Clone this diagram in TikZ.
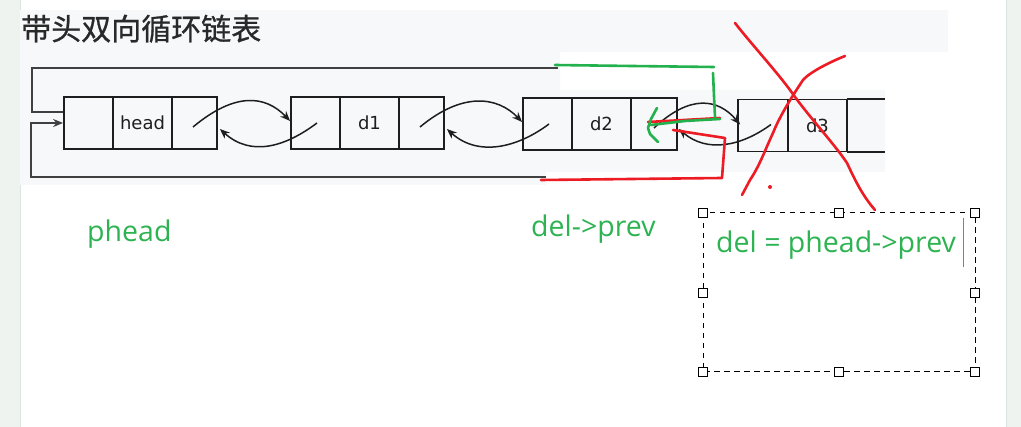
\documentclass[tikz,border=0pt]{standalone}
\usepackage{fontspec}
\setmainfont{Open Sans}
\newfontfamily\cjk[FakeBold=0.8]{Noto Sans CJK SC}
\newfontfamily\dejavu{DejaVu Sans}
\usetikzlibrary{arrows.meta,calc}
\definecolor{pgreen}{HTML}{22B14C}
\definecolor{tgreen}{HTML}{2DB352}
\definecolor{pred}{HTML}{ED1C24}
\definecolor{lineblk}{HTML}{1E1E1E}
\definecolor{bandgray}{HTML}{F7F8FA}
\definecolor{sidegray}{HTML}{EEF3F0}
\definecolor{sideline}{HTML}{DCE4DF}
\begin{document}
\begin{tikzpicture}[x=1pt,y=-1pt,
  cell/.style={draw=lineblk,line width=1.8pt,minimum height=52pt,inner sep=0pt,
    font=\dejavu\fontsize{18}{20}\selectfont,text=lineblk},
  opencell/.style={minimum height=52pt,inner sep=0pt},
  arr/.style={draw=lineblk,line width=1.5pt,-{Stealth[length=10pt,width=8pt]}},
  loopline/.style={draw=lineblk!85,line width=1.8pt},
  gpen/.style={draw=pgreen,line width=2.6pt,line cap=round,line join=round},
  rpen/.style={draw=pred,line width=2.6pt,line cap=round,line join=round},
  lbl/.style={anchor=base west,inner sep=0pt,text=tgreen,font=\fontsize{28.5}{32}\selectfont},
  handle/.style={draw=black,fill=white,line width=1pt,minimum size=8.5pt,inner sep=0pt}]
\useasboundingbox (0,0) rectangle (1021,427);
\fill[white] (0,0) rectangle (1021,427);
% side stripes
\fill[sidegray] (0,0) rectangle (20,427);
\draw[sideline,line width=1pt] (20,0) -- (20,427);
\fill[sidegray] (1006,0) rectangle (1021,427);
\draw[sideline,line width=1pt] (1006,0) -- (1006,427);
% bands
\fill[bandgray] (20,10) rectangle (948,52);
\fill[bandgray] (20,52) -- (560,52) -- (560,90) -- (885,90) -- (885,172) -- (546,172) -- (546,185) -- (20,185) -- cycle;
% title
\node[anchor=base west,inner sep=0pt,text=lineblk!95,font=\cjk\fontsize{30}{32}\selectfont] (title) at (21,40) {带头双向循环链表};
% head node
\node[cell,minimum width=49pt] (h1) at (88.5,123) {};
\node[cell,minimum width=59pt] (h2) at (142.5,123) {head};
\node[cell,minimum width=45pt] (h3) at (194.5,123) {};
% d1
\node[cell,minimum width=49pt] (a1) at (315.5,123) {};
\node[cell,minimum width=59pt] (a2) at (369.5,123) {d1};
\node[cell,minimum width=45pt] (a3) at (421.5,123) {};
% d2
\node[cell,minimum width=49pt] (b1) at (547.5,124) {};
\node[cell,minimum width=59pt] (b2) at (601.5,124) {d2};
\node[cell,minimum width=46pt] (b3) at (654,124) {};
% d3
\node[cell,minimum width=50pt] (c1) at (763,125.5) {};
\node[cell,minimum width=59pt] (c2) at (817.5,125.5) {d3};
\node[opencell,minimum width=38pt] (c3) at (866,125.5) {};
\draw[loopline,draw=lineblk] (c3.north west) -- (c3.north east);
\draw[loopline,draw=lineblk] (c3.south west) -- (c3.south east);
% links head <-> d1
\draw[arr] ($(h3.center)+(-1.5,4)$) .. controls +(42,-35) and +(-25,-26) .. ($(a1.west)+(0,-2)$);
\draw[arr] ($(a1.center)+(1.5,0)$) .. controls +(-32,24) and +(31,28) .. ($(h3.east)+(2,6)$);
% d1 <-> d2
\draw[arr] ($(a3.center)+(-1.5,4)$) .. controls +(42,-35) and +(-25,-26) .. ($(b1.west)+(0,-2)$);
\draw[arr] ($(b1.center)+(1.5,0)$) .. controls +(-32,24) and +(31,28) .. ($(a3.east)+(2,6)$);
% d2 <-> d3
\draw[arr] ($(b3.center)+(0,4)$) .. controls +(36,-34) and +(-22,-26) .. ($(c1.west)+(3,-1)$);
\draw[arr] ($(c1.center)+(8,-1)$) .. controls +(-30,22) and +(28,24) .. ($(b3.east)+(1,5)$);
% outer loop lines
\coordinate (topend) at (558,68);
\coordinate (botend) at (546,177);
\draw[loopline] ($(h1.west)+(0,-11)$) -- (32,112) -- (32,68) -- (topend);
\draw[loopline,-{Stealth[length=10pt,width=8pt]}] (botend) -- (31,177) -- (31,123) -- (h1.west);
% red annotation (under green)
\draw[rpen] (648,122) -- (720,118);
\draw[rpen] (673,130) -- (725,138) -- (722,178) -- (541,180);
% green annotation
\draw[gpen] (555,65) -- (632,66) -- (714,67);
\draw[gpen] (713,73) -- (714,96) -- (715,117);
\draw[gpen] (720,119) -- (685,121) -- (651,125);
\draw[gpen] (657,108) -- (651,119) -- (648,128) -- (650,134) -- (658,142);
% red cross
\draw[rpen] (735,23) .. controls (752,45) and (780,75) .. (795,97) .. controls (812,120) and (835,145) .. (847,163) .. controls (855,180) and (862,195) .. (875,210);
\draw[rpen] (845,56) .. controls (830,62) and (810,72) .. (803,80) .. controls (795,92) and (780,115) .. (773,133) .. controls (765,150) and (760,165) .. (750,180) -- (742,195);
\fill[pred] (770,187) circle (2pt);
% labels
\node[lbl] (lphead) at (87,242) {phead};
\node[lbl] (ldelprev) at (531,237) {del->prev};
% selection box
\draw[dashed,dash pattern=on 5.5pt off 4.5pt,line width=1pt] (703,213) rectangle (975,372);
\node[lbl] (ldel) at (716,253) {del = phead->prev};
\draw[gray,line width=0.8pt] (963,218) -- (963,267);
\foreach \x/\y [count=\i] in {703/213,839/213,975/213,703/293,975/293,703/372,839/372,975/372}
  \node[handle] (hd\i) at (\x,\y) {};
\end{tikzpicture}
\end{document}
